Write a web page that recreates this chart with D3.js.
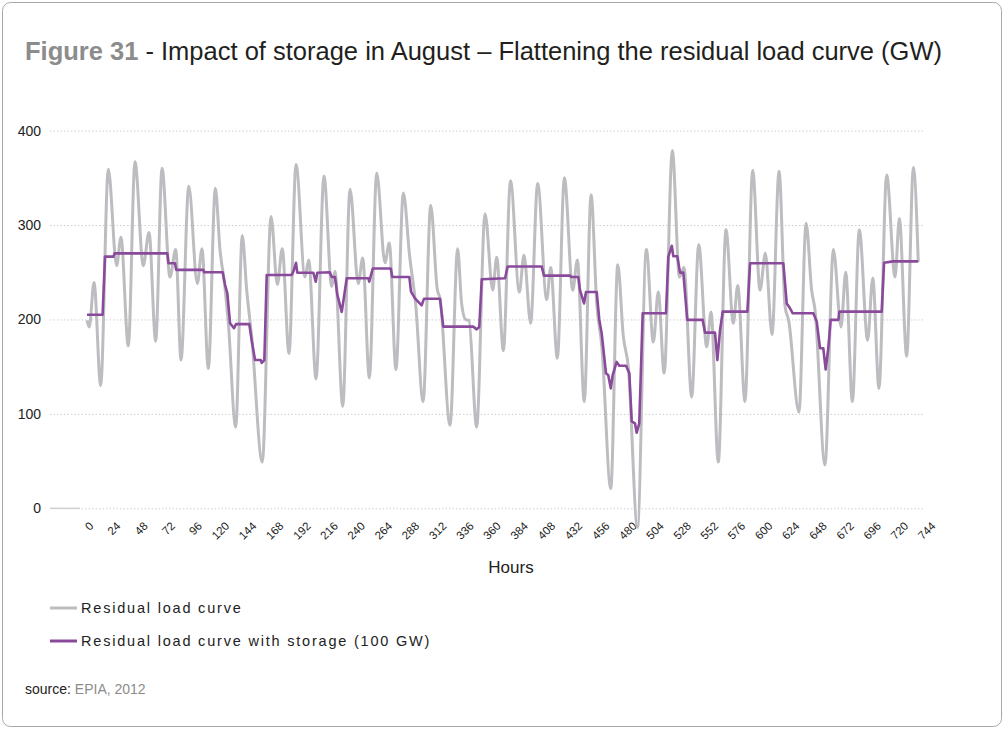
<!DOCTYPE html>
<html>
<head>
<meta charset="utf-8">
<script src="https://cdn.jsdelivr.net/npm/d3@7"></script>
<style>
  html, body { margin: 0; padding: 0; background: #fff; }
  svg { display: block; font-family: "Liberation Sans", Arial, sans-serif; }
</style>
</head>
<body>
<svg id="chart" width="1004" height="729"></svg>
<script>
// Residual load, August (hour, GW) – daily highs and lows of the curve
const residualLoad = [
  [0,199],[2,192],[6.2,239],[12.1,130],[18.8,359],[26.2,257],[30,287],[36.5,172],
  [42.4,367],[49.7,257],[54.8,292],[60.7,177],[66.3,360],[73.3,245],[78.4,274],[83.1,157],
  [89.9,341],[97.5,238],[101.6,275],[107.2,148],[113.4,339],[117.5,274],[121.5,238],[124.9,196],
  [131.4,86],[137.2,289],[141.1,231],[145.5,182],[154.9,49],[162.6,309],[168.2,237],[172.5,275],
  [178.5,164],[184.7,364],[192.6,245],[195.9,263],[202.4,137],[209.4,352],[216.2,235],[219.1,251],
  [226,108],[232.4,338],[239.7,238],[243.6,265],[249.5,138],[256,355],[263.3,260],[267.1,281],
  [273,147],[279.5,334],[285,268],[290.5,215],[297,113],[303.7,321],[309.5,232],[312,222],
  [320.8,88],[327.5,275],[331,217],[334.5,200],[337.5,199],[344.3,86],[351.7,312],[358.5,231],
  [362,266],[367.9,167],[374.2,347],[382,229],[386.1,268],[392,196],[398.2,344],[406.2,221],
  [409.7,255],[415.6,159],[421.8,350],[429.2,231],[433.3,263],[439.4,113],[445.4,332],[450.4,217],
  [455,170],[462.8,21],[469,258],[473.9,182],[478.3,150],[486.4,-20],[494.3,274],[500.4,176],
  [504.8,229],[510,143],[517.2,379],[523.5,245],[527.5,255],[534.3,118],[540.5,279],[547.6,171],
  [551.4,208],[557.8,49],[564.6,295],[571.1,196],[575,236],[581.4,113],[588.2,358],[594.7,231],
  [599.4,270],[605.3,184],[611.5,357],[616.8,214],[620,199],[629.1,102],[635.4,302],[640.3,231],
  [643.3,210],[652.1,46],[659.5,274],[666.3,192],[670.4,250],[676.3,113],[682.4,295],[689.8,178],
  [694.3,244],[699.8,127],[706.6,353],[714,245],[717.8,307],[724.3,161],[730.2,361],[734.5,261]
];

// Residual load with 100 GW of storage (hour, GW)
const withStorage = [
  [0,205],[13.8,205],[15.9,266.5],[23.3,266.5],[24.5,270],[71,270],[72,259.5],[77.8,259.5],
  [78.8,252.5],[102.8,252.5],[103.5,250],[119.9,250],[122,236.5],[124,227.7],[126.4,196],
  [129.9,190.7],[131.7,195],[143.4,195],[145.5,178],[148.5,157],[153.5,157],[154.4,154],
  [156.7,157],[158.8,247],[180.9,247],[182.3,250.6],[184.7,260],[185.8,249.5],[200,249.5],
  [202.1,240],[203.5,249.5],[214.5,250],[216.2,245],[219.1,245],[221.2,226],[225.1,208],
  [227.1,224],[229.5,243.6],[248.6,243.6],[249.4,240],[252.5,254],[268.4,254],[269.8,245],
  [284.8,245],[286.3,229.5],[289.8,222.4],[295.7,215],[297.8,222],[311.9,222],[314.8,192.4],
  [341.3,192.4],[344.3,189.5],[346.6,192],[348.8,242.6],[369.4,243.6],[371.7,256],[401.8,256],
  [403.8,246.4],[426.8,246.4],[428,245],[434.1,245],[435.6,231],[439.2,217],[440.9,229],
  [450.4,229],[452.7,199.5],[454.8,185],[458.6,143],[460.6,141],[462.8,127],[464.5,141],
  [468,155],[470.4,151],[476.3,151],[479.2,143],[481.3,92],[484.2,90],[485.7,80],[488,90],
  [491,206.5],[511.6,206.5],[513.7,266.5],[516.7,278],[518.1,267],[521.6,267],[524,249.6],
  [526.9,249.6],[530.4,199.5],[544,199.5],[546.1,186],[554.9,186],[557,157],[559.3,188],
  [561.7,208.3],[583.5,208.3],[585.9,259.5],[615.3,259.5],[618.3,217],[620.6,213],[623.6,206.5],
  [641.8,206.5],[644.8,197.7],[647.7,169.5],[650.6,169.5],[652.7,147],[655,169.5],[657.1,199.5],
  [663.9,199.5],[664.8,208.3],[702.2,208.3],[704.3,260],[712.2,261.5],[734.5,261.5]
];

const hourTicks = d3.range(0, 745, 24);
const gwTicks = [0, 100, 200, 300, 400];

const seriesNames = ["Residual load curve", "Residual load curve with storage (100 GW)"];
const seriesColors = ["#bdbdc1", "#8a4a9c"];

const svg = d3.select("#chart");

// card frame
svg.append("rect")
  .attr("x", 2.5).attr("y", 2.5).attr("width", 999).attr("height", 724)
  .attr("rx", 8).attr("fill", "#fff").attr("stroke", "#a8a8a8").attr("stroke-width", 1);

// title
const title = svg.append("text").attr("x", 25).attr("y", 60)
  .attr("font-size", 25.5).attr("fill", "#231f20");
title.append("tspan").attr("fill", "#8c8c8c").attr("font-weight", "bold").text("Figure 31");
title.append("tspan").text(" - Impact of storage in August – Flattening the residual load curve (GW)");

const x = d3.scaleLinear().domain([0, 744]).range([87, 929]);
const y = d3.scaleLinear().domain([0, 400]).range([508.3, 130.6]);

// horizontal grid
const yAxis = d3.axisLeft(y).tickValues(gwTicks).tickSize(-875).tickPadding(9);
const gy = svg.append("g").attr("transform", "translate(50,0)").call(yAxis);
gy.select(".domain").remove();
gy.selectAll(".tick line").attr("stroke", "#cfcfcf").attr("stroke-dasharray", "1.5,2");
gy.selectAll(".tick text").attr("font-size", 14).attr("fill", "#222")
  .attr("font-family", "'Liberation Sans', Arial, sans-serif");
gy.append("line").attr("x1", 0).attr("x2", 30).attr("y1", y(0)).attr("y2", y(0))
  .attr("stroke", "#d2d2d2").attr("stroke-width", 1.5);

// hour labels, slanted
const xAxis = d3.axisBottom(x).tickValues(hourTicks).tickSize(0).tickPadding(0);
const gx = svg.append("g").attr("transform", "translate(0,521)").call(xAxis);
gx.select(".domain").remove();
gx.selectAll(".tick text")
  .attr("font-size", 11.5).attr("fill", "#222")
  .attr("font-family", "'Liberation Sans', Arial, sans-serif")
  .attr("text-anchor", "end")
  .attr("dy", "0.7em")
  .attr("transform", "translate(1,0) rotate(-45)");

svg.append("text").attr("x", 511).attr("y", 573).attr("text-anchor", "middle")
  .attr("font-size", 17).attr("fill", "#222").text("Hours");

// lines
const greyLine = d3.line().x(d => x(d[0])).y(d => y(d[1])).curve(d3.curveMonotoneX);
svg.append("path").datum(residualLoad).attr("d", greyLine)
  .attr("fill", "none").attr("stroke", seriesColors[0]).attr("stroke-width", 3)
  .attr("stroke-linejoin", "round");

const stepLine = d3.line().x(d => x(d[0])).y(d => y(d[1]));
svg.append("path").datum(withStorage).attr("d", stepLine)
  .attr("fill", "none").attr("stroke", seriesColors[1]).attr("stroke-width", 2.6)
  .attr("stroke-linejoin", "round");

// legend
const legend = svg.append("g").selectAll("g").data(seriesNames).join("g")
  .attr("transform", (d, i) => `translate(50,${608 + i * 33})`);
legend.append("line").attr("x1", 0).attr("x2", 27).attr("y1", 0).attr("y2", 0)
  .attr("stroke", (d, i) => seriesColors[i]).attr("stroke-width", 3);
legend.append("text").attr("x", 31).attr("y", 5).attr("font-size", 14.5)
  .attr("letter-spacing", "1.8px").attr("fill", "#222").text(d => d);

// source
const src = svg.append("text").attr("x", 25).attr("y", 694).attr("font-size", 14).attr("fill", "#222");
src.append("tspan").text("source: ");
src.append("tspan").attr("fill", "#8c8c8c").text("EPIA, 2012");
</script>
</body>
</html>
